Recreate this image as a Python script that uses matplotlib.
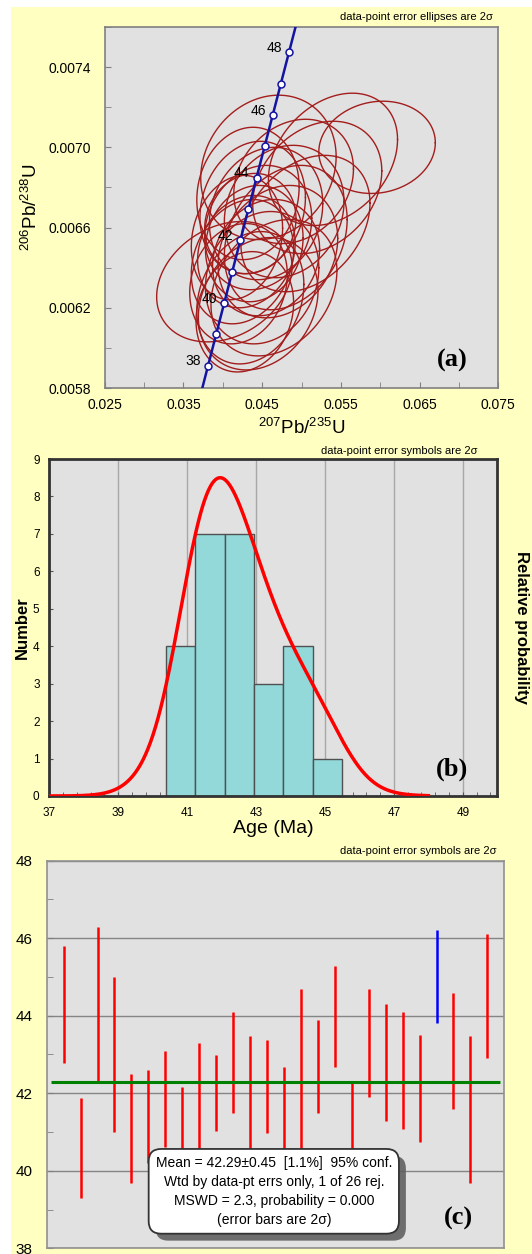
import numpy as np
import matplotlib.pyplot as plt
from matplotlib.patches import Rectangle
from matplotlib.ticker import FixedLocator, FormatStrFormatter
import matplotlib.patheffects as pe

plt.rcParams['font.family'] = ['Liberation Sans', 'DejaVu Sans']
plt.rcParams['mathtext.fontset'] = 'custom'
plt.rcParams['mathtext.rm'] = 'Liberation Sans'
plt.rcParams['mathtext.it'] = 'Liberation Sans:italic'
plt.rcParams['mathtext.bf'] = 'Liberation Sans:bold'

# --- data -----------------------------------------------------------------
# U decay constants (per Ma) for the concordia curve
L238 = 1.55125e-4
L235 = 9.8485e-4
conc_ages = [38, 39, 40, 41, 42, 43, 44, 45, 46, 47, 48]
conc_labels = [38, 40, 42, 44, 46, 48]

# error ellipses: 207Pb/235U, 206Pb/238U, 2s half widths, correlation
ell_x = [0.0596, 0.0540, 0.0458, 0.0520, 0.0490, 0.0478, 0.0455, 0.0445, 0.0440,
         0.0430, 0.0435, 0.0455, 0.0425, 0.0450, 0.0420, 0.0435, 0.0402, 0.0445,
         0.0465, 0.0428, 0.0470, 0.0480, 0.0438, 0.0418, 0.0505, 0.0432]
ell_y = [0.00700, 0.00694, 0.00690, 0.00680, 0.00683, 0.00668, 0.00667, 0.00660, 0.00652,
         0.00648, 0.00662, 0.00645, 0.00643, 0.00635, 0.00632, 0.00625, 0.00633, 0.00622,
         0.00630, 0.00618, 0.00648, 0.00655, 0.00670, 0.00655, 0.00662, 0.00677]
ell_sx = [0.0074, 0.0082, 0.0086, 0.0082, 0.0076, 0.0076, 0.0072, 0.0068, 0.0062,
          0.0062, 0.0058, 0.0068, 0.0065, 0.0072, 0.0062, 0.0068, 0.0086, 0.0076,
          0.0080, 0.0062, 0.0076, 0.0078, 0.0067, 0.0058, 0.0082, 0.0065]
ell_sy = [0.00023, 0.00033, 0.00036, 0.00033, 0.00031, 0.00033, 0.00033, 0.00031, 0.00029,
          0.00028, 0.00025, 0.00029, 0.00031, 0.00033, 0.00030, 0.00033, 0.00030, 0.00033,
          0.00034, 0.00030, 0.00033, 0.00036, 0.00033, 0.00031, 0.00034, 0.00033]
ell_rho = [0.10, 0.30, 0.15, 0.25, 0.20, 0.15, 0.15, 0.15, 0.10,
           0.15, 0.10, 0.15, 0.20, 0.15, 0.15, 0.20, 0.25, 0.20,
           0.25, 0.15, 0.20, 0.25, 0.15, 0.15, 0.30, 0.10]

# 206Pb/238U ages (Ma) and 2s errors
ages = [44.29, 40.59, 44.29, 42.99, 41.09, 41.39, 41.85, 41.20, 41.90, 42.01, 42.79, 42.00, 42.18,
        41.60, 42.50, 42.69, 43.99, 41.20, 43.30, 42.79, 42.59, 42.12, 45.00, 43.09, 41.59, 44.50]
errs = [1.50, 1.30, 2.01, 2.00, 1.40, 1.20, 1.24, 0.97, 1.39, 0.98, 1.30, 1.48, 1.20,
        1.09, 2.19, 1.20, 1.30, 1.06, 1.40, 1.50, 1.50, 1.38, 1.20, 1.50, 1.90, 1.60]
rejected = [23]
bin_edges = [40.39, 41.24, 42.09, 42.94, 43.79, 44.64, 45.49]
prob_peak = 8.5
kde_width = 0.65   # gaussian sigma as a fraction of the plotted error
mean_age = 42.29
mean_err = 0.45

# --- figure ---------------------------------------------------------------
W, H = 532, 1254
fig = plt.figure(figsize=(W / 100, H / 100), dpi=100)
fig.patch.set_facecolor('white')


def box(l, t, r, b):
    return [l / W, 1 - b / H, (r - l) / W, (b - t) / H]


fig.add_artist(Rectangle((11 / W, 0), 1 - 11 / W, 1 - 7 / H, transform=fig.transFigure,
                         fc='#FFFFC2', ec='none', zorder=-5))

# (a) concordia
ax1 = fig.add_axes(box(104.7, 27, 498.3, 388))
ax1.set_facecolor('#E1E1E1')
th = np.linspace(0, 2 * np.pi, 240)
for cx, cy, sx, sy, r in zip(ell_x, ell_y, ell_sx, ell_sy, ell_rho):
    ax1.plot(cx + sx * np.cos(th), cy + sy * (r * np.cos(th) + np.sqrt(1 - r * r) * np.sin(th)),
             color='#A31D1D', lw=1.0, zorder=2)
tt = np.linspace(36, 50, 300)
ax1.plot(np.exp(L235 * tt) - 1, np.exp(L238 * tt) - 1, color='#1414A0', lw=1.8, zorder=3)
ca = np.array(conc_ages, dtype=float)
ax1.plot(np.exp(L235 * ca) - 1, np.exp(L238 * ca) - 1, 'o', ms=5, mfc='white',
         mec='#1414A0', mew=1.1, zorder=4)
for a in conc_labels:
    ax1.annotate(str(a), (np.exp(L235 * a) - 1, np.exp(L238 * a) - 1), xytext=(-5, 3),
                 textcoords='offset points', ha='right', va='center', fontsize=10, zorder=5)
ax1.set_xlim(0.025, 0.075)
ax1.set_ylim(0.0058, 0.0076)
ax1.set_xticks(np.arange(0.025, 0.0751, 0.01))
ax1.xaxis.set_minor_locator(FixedLocator(np.arange(0.030, 0.071, 0.01)))
ax1.set_yticks(np.arange(0.0058, 0.00741, 0.0004))
ax1.yaxis.set_minor_locator(FixedLocator(np.arange(0.0060, 0.0077, 0.0004)))
ax1.xaxis.set_major_formatter(FormatStrFormatter('%.3f'))
ax1.yaxis.set_major_formatter(FormatStrFormatter('%.4f'))
ax1.tick_params(which='both', direction='in', length=4, color='#808080', labelsize=10)
ax1.tick_params(axis='y', pad=10)
ax1.tick_params(axis='x', pad=7)
for s in ax1.spines.values():
    s.set_color('#808080')
    s.set_linewidth(1.2)
ax1.set_xlabel(r'$^{207}$Pb/$^{235}$U', fontsize=13.5)
ax1.set_ylabel(r'$^{206}$Pb/$^{238}$U', fontsize=13.5)
ax1.xaxis.set_label_coords(0.5, -0.083)
ax1.yaxis.set_label_coords(-0.162, 0.5)

# (b) histogram + probability density
ax2 = fig.add_axes(box(49.3, 459, 497.3, 796))
ax2.set_facecolor('#E1E1E1')
ax2.grid(axis='x', color='#A8A8A8', lw=1, zorder=0)
ax2.set_axisbelow(True)
ax2.hist(ages, bins=bin_edges, color='#93D9D9', edgecolor='#505050', lw=1, zorder=2)
xs = np.linspace(37, 48, 600)
dens = np.zeros_like(xs)
for a, e in zip(ages, errs):
    s = e * kde_width
    dens += np.exp(-0.5 * ((xs - a) / s) ** 2) / s
ax2.plot(xs, dens / dens.max() * prob_peak, color='#FF0000', lw=2.5, zorder=3)
ax2.set_xlim(37, 50)
ax2.set_ylim(0, 9)
ax2.set_xticks(range(37, 50, 2))
ax2.xaxis.set_minor_locator(FixedLocator(np.arange(37, 50.01, 0.4)))
ax2.set_yticks(range(0, 10))
ax2.tick_params(which='both', direction='in', length=3, color='#555555', labelsize=8.5)
ax2.tick_params(axis='y', pad=7)
ax2.tick_params(axis='x', pad=8)
for s in ax2.spines.values():
    s.set_color('#333333')
    s.set_linewidth(2)
ax2.set_xlabel('Age (Ma)', fontsize=14)
ax2.xaxis.set_label_coords(0.5, -0.071)
ax2.set_ylabel('Number', fontsize=12, fontweight='bold')
ax2.yaxis.set_label_coords(-0.043, 0.5)
ax2.text(1.055, 0.5, 'Relative probability', transform=ax2.transAxes, rotation=270,
         ha='center', va='center', fontsize=12, fontweight='bold')

# (c) weighted mean
ax3 = fig.add_axes(box(46.7, 860.7, 504.3, 1248.3))
ax3.set_facecolor('#E1E1E1')
ax3.grid(axis='y', color='#858585', lw=1, zorder=0)
ax3.set_axisbelow(True)
idx = np.arange(1, len(ages) + 1)
ag = np.array(ages)
er = np.array(errs)
cols = ['#0000FF' if i in rejected else '#FF0000' for i in idx]
ax3.vlines(idx, ag - er, ag + er, colors=cols, lw=1.8, zorder=2)
ax3.hlines(mean_age, 0.25, 26.75, color='#008000', lw=2.2, zorder=3)
ax3.set_xlim(0, 27)
ax3.set_ylim(38, 48)
ax3.set_xticks([])
ax3.set_yticks(range(38, 49, 2))
ax3.yaxis.set_minor_locator(FixedLocator(range(39, 48, 2)))
ax3.tick_params(which='both', axis='y', direction='in', length=4, color='#808080',
                labelsize=11, pad=10)
for s in ax3.spines.values():
    s.set_color('#909090')
    s.set_linewidth(1.2)
n_used = len(ages)
info = (f'Mean = {mean_age:.2f}\u00b1{mean_err:.2f}  [1.1%]  95% conf.\n'
        f'Wtd by data-pt errs only, {len(rejected)} of {n_used} rej.\n'
        'MSWD = 2.3, probability = 0.000\n'
        '(error bars are 2\u03c3)')
t = ax3.text(13.4, 39.47, info, ha='center', va='center', fontsize=10, linespacing=1.45,
             zorder=6, bbox=dict(boxstyle='round,pad=0.5,rounding_size=0.9', fc='white',
                                 ec='#333333', lw=1.3))
t.get_bbox_patch().set_path_effects([
    pe.SimplePatchShadow(offset=(5, -5), shadow_rgbFace='#606060', alpha=0.9), pe.Normal()])

# header notes and panel letters
fig.text(492.7 / W, 1 - 16.7 / H, 'data-point error ellipses are 2\u03c3', ha='right', va='center', fontsize=8)
fig.text(477.7 / W, 1 - 451 / H, 'data-point error symbols are 2\u03c3', ha='right', va='center', fontsize=8)
fig.text(496.7 / W, 1 - 850.7 / H, 'data-point error symbols are 2\u03c3', ha='right', va='center', fontsize=8)
for lab, x, y in [('(a)', 452, 360), ('(b)', 452, 769), ('(c)', 458, 1218)]:
    fig.text(x / W, 1 - y / H, lab, ha='center', va='center', fontsize=19,
             fontweight='bold', family='Liberation Serif')

fig.savefig('out.png', dpi=100)
